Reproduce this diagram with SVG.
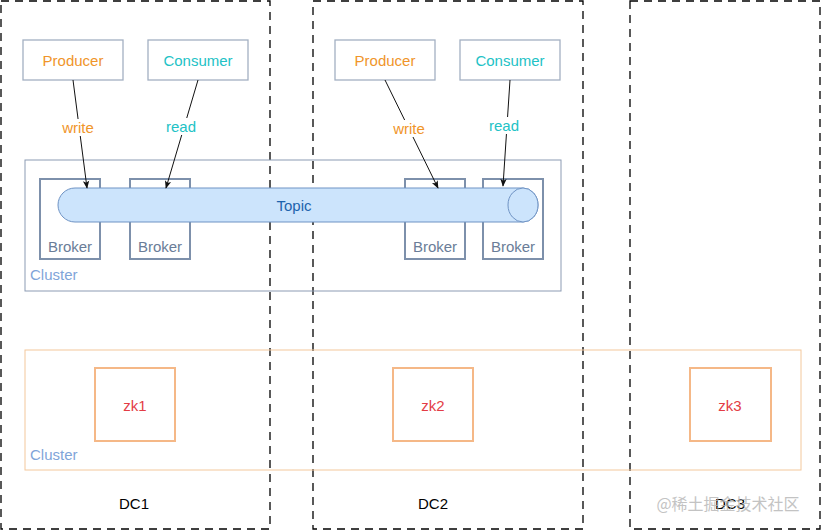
<svg xmlns="http://www.w3.org/2000/svg" width="821" height="531" viewBox="0 0 821 531">
<style>
text{font-family:"Liberation Sans",Arial,sans-serif;font-size:15px;text-anchor:middle;dominant-baseline:central}
.dc{fill:none;stroke:#000;stroke-width:1.3;stroke-dasharray:8 6}
.node{fill:#fff;stroke:#a3b0c2;stroke-width:1.3}
.prod{fill:#f0952a}
.cons{fill:#22c2c6}
.broker{fill:#fff;stroke:#7d90ab;stroke-width:2}
.btxt{fill:#6a7d98}
.zk{fill:#fff;stroke:#f5b887;stroke-width:2}
.zktxt{fill:#e33c45}
.clab{fill:#7fa5d9;text-anchor:start}
.conn{stroke:#111;stroke-width:1;fill:none;marker-end:url(#ah)}
</style>
<defs>
<marker id="ah" viewBox="0 0 10 10" refX="9" refY="5" markerWidth="8" markerHeight="8" orient="auto" markerUnits="userSpaceOnUse">
<path d="M0,1 L10,5 L0,9 L2.5,5 Z" fill="#111"/>
</marker>
</defs>
<rect width="821" height="531" fill="#fff"/>
<g id="dc-regions">
<rect class="dc" x="1" y="1" width="269" height="528"/>
<rect class="dc" x="313" y="1" width="270" height="528"/>
<rect class="dc" x="630" y="1" width="190" height="528"/>
<text x="134" y="503" fill="#000">DC1</text>
<text x="433" y="503" fill="#000">DC2</text>
<text x="730" y="503" fill="#000">DC3</text>
</g>
<g id="kafka-cluster">
<rect x="25" y="160" width="536" height="131" fill="none" stroke="#8c9bb3" stroke-width="1"/>
<text class="clab" x="30" y="274">Cluster</text>
</g>
<g id="zk-cluster">
<rect x="25" y="350" width="776" height="120" fill="none" stroke="#f3c89c" stroke-width="1"/>
<text class="clab" x="30" y="454">Cluster</text>
</g>
<g id="broker1"><rect class="broker" x="40" y="179" width="60" height="80"/><text class="btxt" x="70" y="246">Broker</text></g>
<g id="broker2"><rect class="broker" x="130" y="179" width="60" height="80"/><text class="btxt" x="160" y="246">Broker</text></g>
<g id="broker3"><rect class="broker" x="405" y="179" width="60" height="80"/><text class="btxt" x="435" y="246">Broker</text></g>
<g id="broker4"><rect class="broker" x="483" y="179" width="60" height="80"/><text class="btxt" x="513" y="246">Broker</text></g>
<g id="topic">
<path d="M75,188 H523 A15,17 0 0 1 523,222 H75 A17,17 0 0 1 75,188 Z" fill="#cce4fc" stroke="#6f93c4" stroke-width="1"/>
<ellipse cx="523" cy="205" rx="15" ry="17" fill="#cce4fc" stroke="#6f93c4" stroke-width="1"/>
<text x="294" y="205" fill="#1d63ad">Topic</text>
</g>
<g id="producer1"><rect class="node" x="23" y="40" width="100" height="40"/><text class="prod" x="73" y="60">Producer</text></g>
<g id="consumer1"><rect class="node" x="148" y="40" width="100" height="40"/><text class="cons" x="198" y="60">Consumer</text></g>
<g id="producer2"><rect class="node" x="335" y="40" width="100" height="40"/><text class="prod" x="385" y="60">Producer</text></g>
<g id="consumer2"><rect class="node" x="460" y="40" width="100" height="40"/><text class="cons" x="510" y="60">Consumer</text></g>
<g id="zk1"><rect class="zk" x="95" y="368" width="80" height="73"/><text class="zktxt" x="135" y="405">zk1</text></g>
<g id="zk2"><rect class="zk" x="393" y="368" width="80" height="73"/><text class="zktxt" x="433" y="405">zk2</text></g>
<g id="zk3"><rect class="zk" x="690" y="368" width="81" height="73"/><text class="zktxt" x="730" y="405">zk3</text></g>
<g id="connectors">
<path class="conn" d="M73,80 L87,188"/>
<path class="conn" d="M198,80 L166,188"/>
<path class="conn" d="M385,80 L438,188"/>
<path class="conn" d="M510,80 L503,186"/>
<rect x="59" y="119" width="38" height="17" fill="#fff"/>
<text class="prod" x="78" y="127">write</text>
<rect x="164" y="118" width="35" height="17" fill="#fff"/>
<text class="cons" x="181" y="126">read</text>
<rect x="390" y="120" width="38" height="17" fill="#fff"/>
<text class="prod" x="409" y="128">write</text>
<rect x="487" y="117" width="35" height="17" fill="#fff"/>
<text class="cons" x="504" y="125">read</text>
</g>
<text x="728" y="503" style="font-family:'Noto Sans CJK SC',sans-serif;font-size:16px;fill:#b5b5b5;opacity:0.8">@稀土掘金技术社区</text>
</svg>
